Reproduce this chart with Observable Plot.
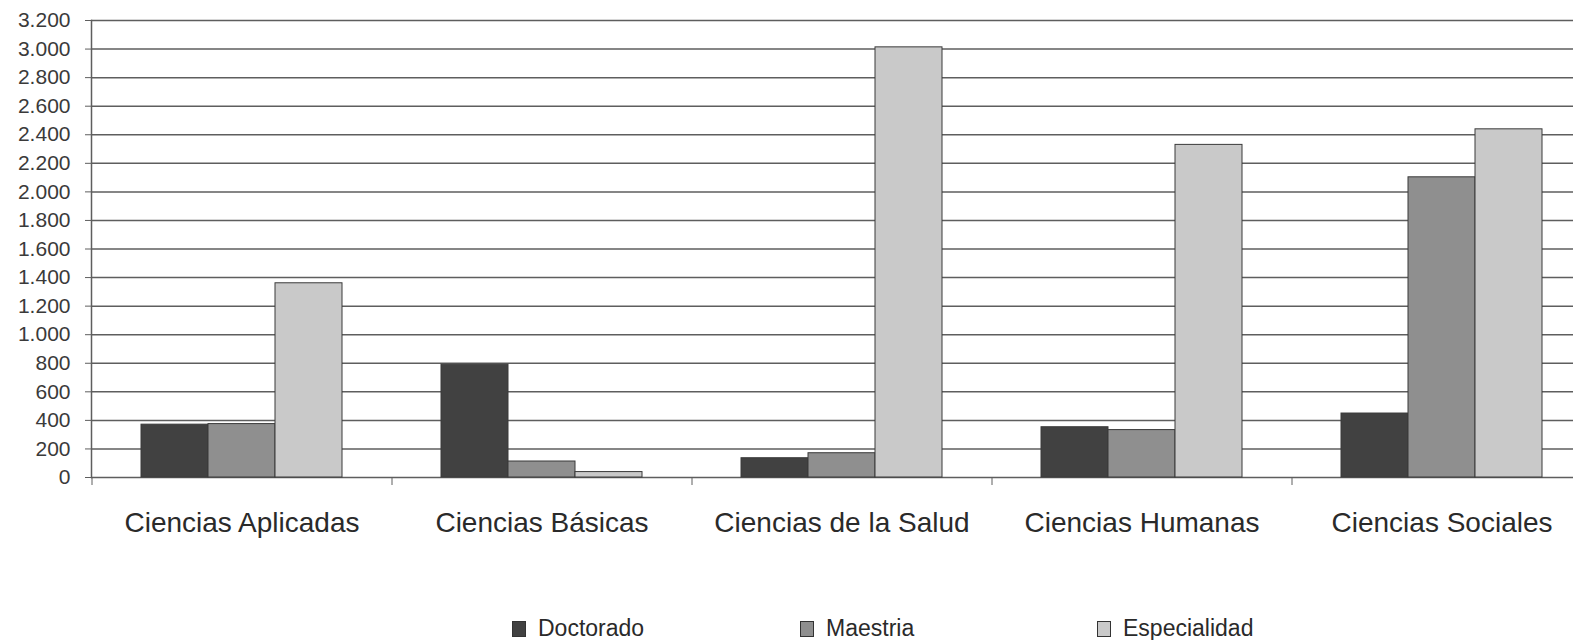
<!DOCTYPE html>
<html><head><meta charset="utf-8">
<script src="https://cdn.jsdelivr.net/npm/d3@7"></script>
<script src="https://cdn.jsdelivr.net/npm/@observablehq/plot@0.6"></script>
<style>
body{margin:0;background:#fff;width:1573px;height:640px;overflow:hidden;font-family:"Liberation Sans",Arial,sans-serif;}
#chart svg{display:block}
#legend{position:relative;height:80px;}
.item{position:absolute;top:57px;font-size:23px;line-height:23px;color:#2a2a2a;display:flex;align-items:center;white-space:nowrap}
.sw{display:inline-block;width:12px;height:14px;border:1px solid #333;margin-right:12px}
</style></head><body>
<div id="chart"></div><div id="legend"></div>
<script>
const categories = ["Ciencias Aplicadas","Ciencias Básicas","Ciencias de la Salud","Ciencias Humanas","Ciencias Sociales"];
const series = ["Doctorado","Maestria","Especialidad"];
const doctorado = [370, 790, 135, 352, 448];
const maestria = [374, 112, 170, 332, 2102];
const especialidad = [1360, 38, 3012, 2329, 2438];
const yTicks = [0,200,400,600,800,1000,1200,1400,1600,1800,2000,2200,2400,2600,2800,3000,3200];
const colors = ["#414141","#8f8f8f","#c9c9c9"];

const seriesValues = [doctorado, maestria, especialidad];
const xRange = [91, 1591];
const pI = 0.33, pO = 0.165;
const step = (xRange[1]-xRange[0])/(categories.length - pI + 2*pO);
const bw = step*(1-pI);
const fmt = d3.formatLocale({thousands:".", grouping:[3], decimal:","}).format(",d");

const barMarks = series.map((s,i) => Plot.barY(
  categories.map((c,j) => ({category:c, value:seriesValues[i][j]})),
  {x:"category", y:"value", fill:colors[i], stroke:"#3a3a3a", strokeWidth:1,
   insetLeft: i*bw/3, insetRight:(series.length-1-i)*bw/3}
));

const chart = Plot.plot({
  width:1573, height:560,
  marginLeft:91, marginRight:0, marginTop:20, marginBottom:83,
  x:{domain:categories, range:xRange, paddingInner:pI, paddingOuter:pO, axis:null},
  y:{domain:[0,3200], axis:null},
  style:{fontFamily:"'Liberation Sans', Arial, sans-serif", background:"white"},
  marks:[
    Plot.gridY(yTicks, {stroke:"#5e5e5e", strokeOpacity:1, strokeWidth:1.5}),
    ...barMarks,
    Plot.axisY({ticks:yTicks, tickFormat:fmt, tickSize:6, tickPadding:15, fontSize:21, stroke:"#5e5e5e", fill:"#3a3a3a", label:null}),
    Plot.axisX({tickSize:0, tickPadding:35, fontSize:28, fill:"#2a2a2a", label:null}),
    Plot.axisX({tickSize:8, tickFormat:() => "", dx:-step/2, stroke:"#5e5e5e", label:null}),
    Plot.frame({anchor:"left", stroke:"#5e5e5e", strokeWidth:1.5})
  ]
});
document.getElementById("chart").appendChild(chart);

const legend = document.getElementById("legend");
const legendX = [512, 800, 1097];
series.forEach((s,i) => {
  const it = document.createElement("div");
  it.className = "item";
  it.style.left = legendX[i] + "px";
  const sw = document.createElement("span");
  sw.className = "sw";
  sw.style.background = colors[i];
  it.appendChild(sw);
  it.appendChild(document.createTextNode(s));
  legend.appendChild(it);
});
</script>
</body></html>
